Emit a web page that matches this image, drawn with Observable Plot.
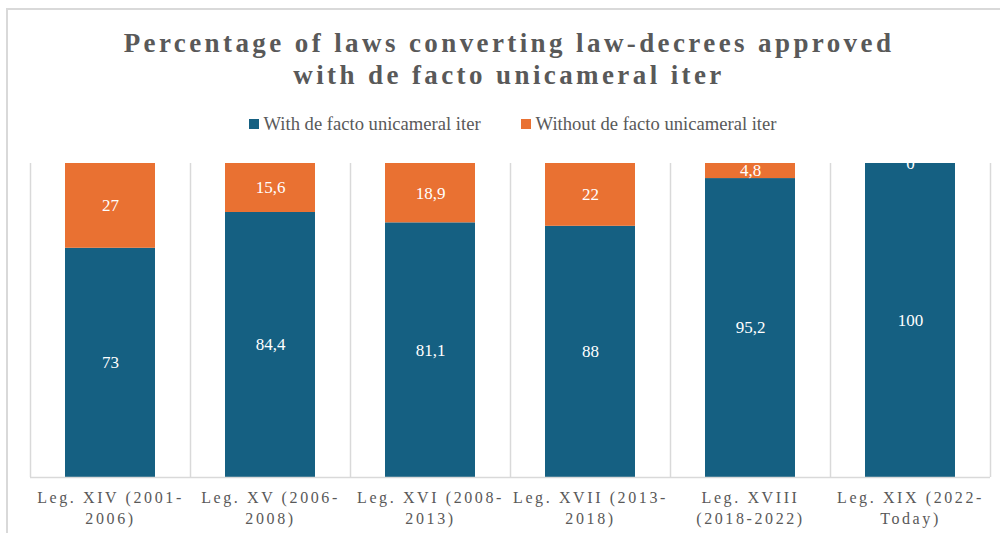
<!DOCTYPE html>
<html>
<head>
<meta charset="utf-8">
<script src="https://cdn.jsdelivr.net/npm/d3@7"></script>
<script src="https://cdn.jsdelivr.net/npm/@observablehq/plot@0.6"></script>
<style>
  html, body { margin: 0; padding: 0; background: #fff; width: 1000px; height: 533px; overflow: hidden; }
  body { position: relative; font-family: "Liberation Serif", serif; color: #595959; }
  #frame { position: absolute; left: 6px; top: 8px; width: 1010px; height: 560px; border: 2px solid #d9d9d9; box-sizing: border-box; }
  #title { position: absolute; left: 0; top: 27px; width: 1018px; text-align: center; font-weight: bold; font-size: 27px; letter-spacing: 3.4px; line-height: 32px; color: #595959; font-family: "Liberation Serif", serif; }
  #legend { position: absolute; top: 113px; left: 0; width: 1000px; display: flex; justify-content: center; gap: 40px; font-size: 18.6px; color: #595959; padding-left: 25px; box-sizing: border-box; font-family: "Liberation Serif", serif; }
  .item { display: flex; align-items: center; gap: 5px; }
  .sw { width: 10px; height: 10px; display: inline-block; }
  #chart { position: absolute; left: 0; top: 150px; }
  #chart svg, #chart svg text { font-family: "Liberation Serif", serif !important; }
</style>
</head>
<body>
<div id="frame"></div>
<div id="title">Percentage of laws converting law-decrees approved<br>with de facto unicameral iter</div>
<div id="legend"></div>
<div id="chart"></div>
<script>
const categories = ["Leg. XIV (2001-2006)", "Leg. XV (2006-2008)", "Leg. XVI (2008-2013)", "Leg. XVII (2013-2018)", "Leg. XVIII (2018-2022)", "Leg. XIX (2022-Today)"];
const tickLabels = ["Leg. XIV (2001-\n2006)", "Leg. XV (2006-\n2008)", "Leg. XVI (2008-\n2013)", "Leg. XVII (2013-\n2018)", "Leg. XVIII\n(2018-2022)", "Leg. XIX (2022-\nToday)"];
const seriesNames = ["With de facto unicameral iter", "Without de facto unicameral iter"];
const withValues = [73, 84.4, 81.1, 88, 95.2, 100];
const withoutValues = [27, 15.6, 18.9, 22, 4.8, 0];
const colors = ["#156082", "#E97132"];

const data = [];
categories.forEach((c, i) => data.push({cat: c, series: seriesNames[0], value: withValues[i]}));
categories.forEach((c, i) => data.push({cat: c, series: seriesNames[1], value: withoutValues[i]}));

const legend = document.getElementById("legend");
seriesNames.forEach((s, i) => {
  const it = document.createElement("div");
  it.className = "item";
  it.innerHTML = `<span class="sw" style="background:${colors[i]}"></span><span>${s}</span>`;
  legend.appendChild(it);
});

const fmt = v => String(v).replace(".", ",");
const labelMap = new Map(categories.map((c, i) => [c, tickLabels[i]]));

const plot = Plot.plot({
  width: 1000,
  height: 383,
  marginTop: 13,
  marginBottom: 56,
  marginLeft: 30,
  marginRight: 10,
  style: { background: "transparent" },
  x: { domain: categories, paddingInner: 0.44, paddingOuter: 0.22, label: null },
  y: { domain: [0, 1], axis: null },
  color: { domain: seriesNames, range: colors },
  marks: [
    Plot.ruleX(categories, { x: d => d, dx: -80, stroke: "#d9d9d9", strokeWidth: 1.5 }),
    Plot.ruleX([categories[categories.length - 1]], { x: d => d, dx: 80, stroke: "#d9d9d9", strokeWidth: 1.5 }),
    Plot.barY(data, Plot.stackY({ x: "cat", y: "value", fill: "series", offset: "normalize", order: null })),
    Plot.ruleY([0], { stroke: "#d9d9d9", strokeWidth: 1.5 }),
    Plot.text(data, Plot.stackY({ x: "cat", y: "value", z: "series", offset: "normalize", order: null, text: d => fmt(d.value), fill: "white", fontSize: 17 })),
    Plot.axisX({ tickSize: 0, tickPadding: 11, tickFormat: d => labelMap.get(d), fontSize: 16, fill: "#595959", lineHeight: 1.3, textAnchor: "middle" })
  ]
});
plot.style.fontFamily = "'Liberation Serif', serif";
plot.querySelectorAll("g[aria-label='x-axis tick label'] text").forEach(t => t.style.letterSpacing = "2.6px");
document.getElementById("chart").appendChild(plot);
</script>
</body>
</html>
